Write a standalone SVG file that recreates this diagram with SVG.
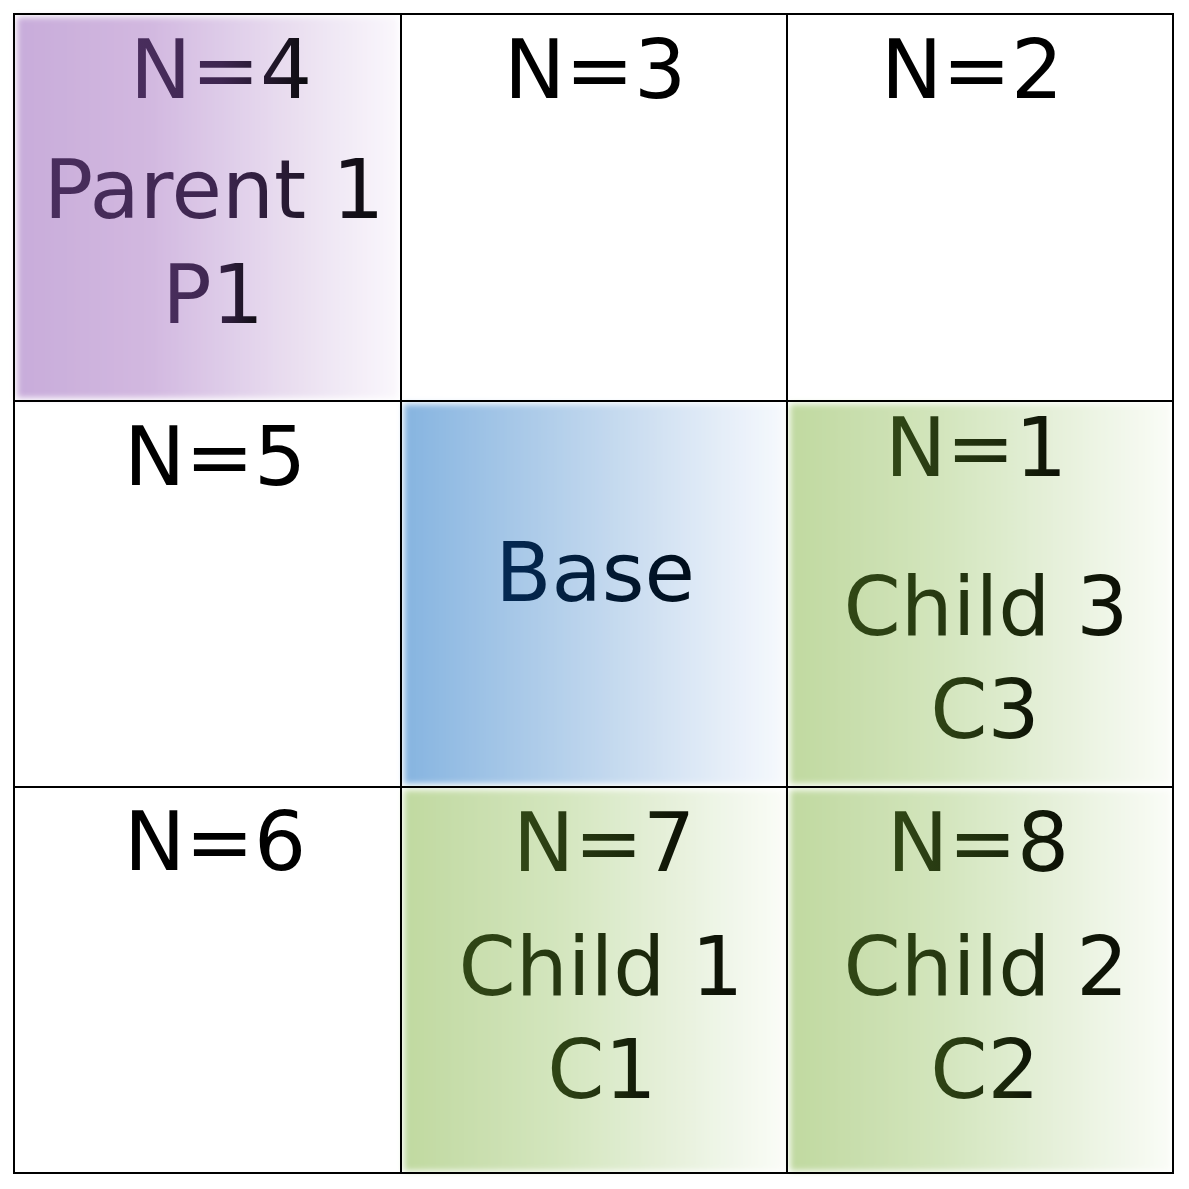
<svg xmlns="http://www.w3.org/2000/svg" width="1189" height="1189" viewBox="0 0 1189 1189">
<defs>
<filter id="soft" x="-5%" y="-5%" width="110%" height="110%"><feGaussianBlur stdDeviation="3"/></filter>
<linearGradient id="gP" x1="0" y1="0" x2="1" y2="0">
<stop offset="0" stop-color="#c8acda"/><stop offset="0.35" stop-color="#d2b8e0"/><stop offset="0.7" stop-color="#e8dcef"/><stop offset="1" stop-color="#faf7fc"/></linearGradient>
<linearGradient id="gB" x1="0" y1="0" x2="1" y2="0">
<stop offset="0" stop-color="#86b4e0"/><stop offset="0.4" stop-color="#b3cfea"/><stop offset="0.75" stop-color="#dbe7f5"/><stop offset="1" stop-color="#f6f9fd"/></linearGradient>
<linearGradient id="gG" x1="0" y1="0" x2="1" y2="0">
<stop offset="0" stop-color="#c0d9a0"/><stop offset="0.4" stop-color="#d3e5bd"/><stop offset="0.75" stop-color="#e9f2df"/><stop offset="1" stop-color="#fafcf7"/></linearGradient>
<linearGradient id="tP" x1="0" y1="0" x2="1" y2="0"><stop offset="0" stop-color="#4a2e5e"/><stop offset="0.5" stop-color="#3e2650"/><stop offset="1" stop-color="#0a0a0c"/></linearGradient>
<linearGradient id="tB" x1="0" y1="0" x2="1" y2="0"><stop offset="0" stop-color="#042a55"/><stop offset="1" stop-color="#000d1a"/></linearGradient>
<linearGradient id="tG" x1="0" y1="0" x2="1" y2="0"><stop offset="0" stop-color="#314816"/><stop offset="0.6" stop-color="#1e2c0d"/><stop offset="1" stop-color="#0a0d05"/></linearGradient>
</defs>
<style>
text{font-family:"DejaVu Sans",Verdana,sans-serif;font-size:82px;text-anchor:middle}
.k{fill:#000}
.p{fill:url(#tP)}
.b{fill:url(#tB)}
.g{fill:url(#tG)}
.grid{stroke:#000;stroke-width:2;fill:none}
</style>
<rect width="1189" height="1189" fill="#fff"/>
<g id="cell-n4">
<rect x="17" y="17" width="381" height="381" fill="url(#gP)" filter="url(#soft)"/>
<text class="p" x="221" y="98">N=4</text>
<text class="p" x="214" y="218">Parent 1</text>
<text class="p" x="213" y="323">P1</text>
</g>
<g id="cell-n3"><text class="k" x="595" y="98">N=3</text></g>
<g id="cell-n2"><text class="k" x="972" y="98">N=2</text></g>
<g id="cell-n5"><text class="k" x="215" y="485">N=5</text></g>
<g id="cell-base">
<rect x="404" y="404" width="380" height="380" fill="url(#gB)" filter="url(#soft)"/>
<text class="b" x="595" y="601">Base</text>
</g>
<g id="cell-n1">
<rect x="790" y="404" width="381" height="380" fill="url(#gG)" filter="url(#soft)"/>
<text class="g" x="976" y="476">N=1</text>
<text class="g" x="986" y="635">Child 3</text>
<text class="g" x="985" y="738">C3</text>
</g>
<g id="cell-n6"><text class="k" x="215" y="870">N=6</text></g>
<g id="cell-n7">
<rect x="404" y="790" width="380" height="381" fill="url(#gG)" filter="url(#soft)"/>
<text class="g" x="604" y="871">N=7</text>
<text class="g" x="601" y="995">Child 1</text>
<text class="g" x="602" y="1098">C1</text>
</g>
<g id="cell-n8">
<rect x="790" y="790" width="381" height="381" fill="url(#gG)" filter="url(#soft)"/>
<text class="g" x="978" y="871">N=8</text>
<text class="g" x="986" y="995">Child 2</text>
<text class="g" x="985" y="1098">C2</text>
</g>
<g id="connectors" class="grid">
<rect x="14" y="14" width="1159" height="1159"/>
<line x1="401" y1="14" x2="401" y2="1173"/>
<line x1="787" y1="14" x2="787" y2="1173"/>
<line x1="14" y1="401" x2="1173" y2="401"/>
<line x1="14" y1="787" x2="1173" y2="787"/>
</g>
</svg>
